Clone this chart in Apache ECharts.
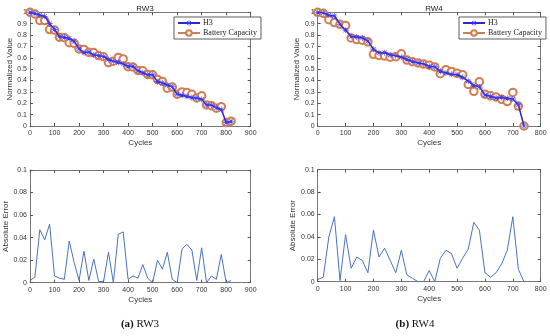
<!DOCTYPE html>
<html><head><meta charset="utf-8">
<script src="https://cdn.jsdelivr.net/npm/echarts@6/dist/echarts.min.js"></script>
<style>html,body{margin:0;padding:0;background:#fff}#c{width:550px;height:336px}</style>
</head><body><div id="c"></div>
<script>
const cyclesRW3 = [0,20,40,60,80,100,120,140,160,180,200,220,240,260,280,300,320,340,360,380,400,420,440,460,480,500,520,540,560,580,600,620,640,660,680,700,720,740,760,780,800,820];
const h3RW3 = [1.0,0.99,0.975,0.965,0.90,0.85,0.785,0.78,0.77,0.745,0.68,0.645,0.65,0.625,0.62,0.61,0.585,0.57,0.56,0.545,0.525,0.525,0.485,0.47,0.45,0.45,0.39,0.38,0.36,0.345,0.28,0.27,0.26,0.25,0.245,0.235,0.185,0.185,0.16,0.145,0.03,0.04];
const capRW3 = [1.0,0.985,0.928,0.927,0.848,0.844,0.781,0.777,0.733,0.727,0.678,0.673,0.648,0.646,0.619,0.609,0.558,0.57,0.603,0.59,0.522,0.519,0.489,0.486,0.454,0.45,0.41,0.392,0.333,0.342,0.28,0.30,0.294,0.279,0.247,0.266,0.185,0.179,0.157,0.17,0.03,0.042];
const errRW3 = [0.002,0.005,0.047,0.038,0.052,0.006,0.004,0.003,0.037,0.018,0.002,0.028,0.002,0.021,0.001,0.001,0.027,0.0,0.043,0.045,0.003,0.006,0.004,0.016,0.004,0.0,0.020,0.012,0.027,0.003,0.0,0.030,0.034,0.029,0.002,0.031,0.0,0.006,0.003,0.025,0.0,0.002];

const cyclesRW4 = [0,20,40,60,80,100,120,140,160,180,200,220,240,260,280,300,320,340,360,380,400,420,440,460,480,500,520,540,560,580,600,620,640,660,680,700,720,740];
const h3RW4 = [1.0,0.995,0.975,0.968,0.895,0.843,0.787,0.782,0.774,0.748,0.676,0.642,0.645,0.624,0.618,0.607,0.586,0.568,0.555,0.545,0.525,0.52,0.481,0.467,0.455,0.453,0.429,0.394,0.358,0.344,0.272,0.261,0.247,0.251,0.243,0.237,0.186,0.0];
const capRW4 = [1.0,0.991,0.935,0.91,0.894,0.885,0.775,0.76,0.755,0.74,0.63,0.62,0.615,0.605,0.61,0.635,0.58,0.565,0.555,0.545,0.535,0.52,0.46,0.495,0.48,0.465,0.45,0.365,0.305,0.39,0.28,0.265,0.255,0.235,0.215,0.295,0.175,0.0];
const errRW4 = [0.002,0.004,0.040,0.058,0.001,0.042,0.012,0.022,0.019,0.008,0.046,0.022,0.030,0.019,0.008,0.028,0.006,0.003,0.0,0.0,0.010,0.0,0.021,0.028,0.025,0.012,0.021,0.029,0.053,0.046,0.008,0.004,0.008,0.016,0.028,0.058,0.011,0.0];

const panelTitles = ['RW3','RW4'];
const captions = ['{b|(a)} RW3','{b|(b)} RW4'];
const xMax = [900, 800];

const chart = echarts.init(document.getElementById('c'));
const AX = '#555';
const LBL = '#333';
const FONT = 'Liberation Sans';
const asterisk = 'path://M4.5,0L5.5,0L5.5,10L4.5,10Z M0,4.5L10,4.5L10,5.5L0,5.5Z M1.1,1.8L1.8,1.1L8.9,8.2L8.2,8.9Z M8.2,1.1L8.9,1.8L1.8,8.9L1.1,8.2Z';

const grids = [
  {left:30, top:12.3, width:220.7, height:113.7},
  {left:317.7, top:12.3, width:223, height:113.7},
  {left:30, top:170, width:220.7, height:112.7},
  {left:317.7, top:169.7, width:223, height:112}
];
const xAxes = [], yAxes = [];
grids.forEach((g, i) => {
  const col = i % 2;
  const top = i < 2;
  const xm = xMax[col];
  xAxes.push({type:'value', gridIndex:i, min:0, max:xm, interval:100, position:'bottom',
    name:'Cycles', nameLocation:'middle', nameGap:13,
    nameTextStyle:{fontFamily:FONT, fontSize:8, color:LBL},
    axisLine:{onZero:false, lineStyle:{color:AX, width:0.8}}, axisTick:{inside:true, length:3, lineStyle:{color:AX}},
    axisLabel:{fontFamily:FONT, fontSize:7, color:LBL, margin:4}, splitLine:{show:false}});
  xAxes.push({type:'value', gridIndex:i, min:0, max:xm, interval:100, position:'top',
    axisLine:{onZero:false, lineStyle:{color:AX, width:0.8}}, axisTick:{inside:true, length:3, lineStyle:{color:AX}},
    axisLabel:{show:false}, splitLine:{show:false}});
  const ymax = top ? 1 : 0.1, yint = top ? 0.1 : 0.02;
  yAxes.push({type:'value', gridIndex:i, min:0, max:ymax, interval:yint, position:'left',
    name: top ? 'Normalized Value' : 'Absolute Error', nameLocation:'middle', nameGap: top ? 15 : 19,
    nameTextStyle:{fontFamily:FONT, fontSize:8, color:LBL},
    axisLine:{show:true, onZero:false, lineStyle:{color:AX, width:0.8}}, axisTick:{show:true, inside:true, length:3, lineStyle:{color:AX}},
    axisLabel:{fontFamily:FONT, fontSize:7, color:LBL, margin:3}, splitLine:{show:false}});
  yAxes.push({type:'value', gridIndex:i, min:0, max:ymax, interval:yint, position:'right',
    axisLine:{show:true, onZero:false, lineStyle:{color:AX, width:0.8}}, axisTick:{show:true, inside:true, length:3, lineStyle:{color:AX}},
    axisLabel:{show:false}, splitLine:{show:false}});
});

function pts(xs, ys){ return xs.map((x,i)=>[x, ys[i]]); }
const sets = [
  {cyc:cyclesRW3, h3:h3RW3, cap:capRW3, err:errRW3},
  {cyc:cyclesRW4, h3:h3RW4, cap:capRW4, err:errRW4}
];
const series = [];
sets.forEach((s, col) => {
  const gi = col;
  series.push({name:'H3', type:'line', xAxisIndex:gi*2, yAxisIndex:gi*2, data:pts(s.cyc, s.h3),
    symbol:asterisk, symbolSize:6, showSymbol:true, z:3,
    lineStyle:{color:'#2e2ac8', width:1.5}, itemStyle:{color:'#3838ff'}, animation:false});
  series.push({name:'Battery Capacity', type:'line', xAxisIndex:gi*2, yAxisIndex:gi*2, data:pts(s.cyc, s.cap),
    symbol:'emptyCircle', symbolSize:7.5, z:2,
    lineStyle:{color:'#c8805a', width:0.6}, itemStyle:{color:'#d27c50', borderWidth:0.6}, animation:false});
  const bi = col + 2;
  series.push({name:'err'+col, type:'line', xAxisIndex:bi*2, yAxisIndex:bi*2, data:pts(s.cyc, s.err),
    symbol:'none', lineStyle:{color:'#4a72c0', width:1}, animation:false});
});

const legendBase = {orient:'vertical', data:['H3','Battery Capacity'], itemWidth:22, itemHeight:7, itemGap:2,
  padding:[2,4,2,3], backgroundColor:'#fff', borderColor:'#333', borderWidth:0.8, borderRadius:0,
  textStyle:{fontFamily:'Liberation Serif', fontSize:8, color:'#222', padding:[0,0,0,-2]}, selectedMode:false};

chart.setOption({
  animation:false,
  backgroundColor:'#fff',
  title:[
    {text:panelTitles[0], left:140, top:0, textAlign:'center', textStyle:{fontFamily:FONT, fontSize:8, fontWeight:'normal', color:'#222'}},
    {text:panelTitles[1], left:429, top:0, textAlign:'center', textStyle:{fontFamily:FONT, fontSize:8, fontWeight:'normal', color:'#222'}},
    {text:captions[0], left:135, top:314, textAlign:'center', textStyle:{fontFamily:'Liberation Serif', fontSize:11, fontWeight:'normal', color:'#111', rich:{b:{fontFamily:'Liberation Serif', fontSize:11, fontWeight:'bold', color:'#111'}}}},
    {text:captions[1], left:410, top:314, textAlign:'center', textStyle:{fontFamily:'Liberation Serif', fontSize:11, fontWeight:'normal', color:'#111', rich:{b:{fontFamily:'Liberation Serif', fontSize:11, fontWeight:'bold', color:'#111'}}}}
  ],
  legend:[
    Object.assign({}, legendBase, {left:174, top:17}),
    Object.assign({}, legendBase, {left:459, top:17})
  ],
  grid: grids,
  xAxis: xAxes,
  yAxis: yAxes,
  series: series
});
</script></body></html>
